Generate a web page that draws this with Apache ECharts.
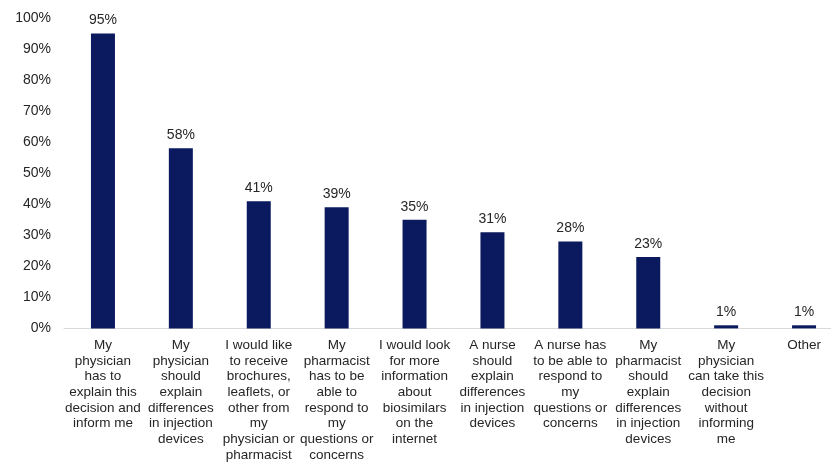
<!DOCTYPE html>
<html>
<head>
<meta charset="utf-8">
<script src="https://cdn.jsdelivr.net/npm/echarts@6/dist/echarts.min.js"></script>
<style>
  html, body { margin: 0; padding: 0; background: #fff; overflow: hidden; }
  #chart { width: 843px; height: 463px; }
</style>
</head>
<body>
<div id="chart"></div>
<script>
// categories, as the lines are broken in the picture
const categories = [
  'My\nphysician\nhas to\nexplain this\ndecision and\ninform me',
  'My\nphysician\nshould\nexplain\ndifferences\nin injection\ndevices',
  'I would like\nto receive\nbrochures,\nleaflets, or\nother from\nmy\nphysician or\npharmacist',
  'My\npharmacist\nhas to be\nable to\nrespond to\nmy\nquestions or\nconcerns',
  'I would look\nfor more\ninformation\nabout\nbiosimilars\non the\ninternet',
  'A nurse\nshould\nexplain\ndifferences\nin injection\ndevices',
  'A nurse has\nto be able to\nrespond to\nmy\nquestions or\nconcerns',
  'My\npharmacist\nshould\nexplain\ndifferences\nin injection\ndevices',
  'My\nphysician\ncan take this\ndecision\nwithout\ninforming\nme',
  'Other'
];
const values = [95, 58, 41, 39, 35, 31, 28, 23, 1, 1];
const yTicks = [0, 10, 20, 30, 40, 50, 60, 70, 80, 90, 100];

const textColor = '#262626';
const font = 'Liberation Sans, Arial, sans-serif';

let myChart = echarts.init(document.getElementById('chart'), null, {renderer: 'canvas'});
let option = {
  animation: false,
  grid: { left: 64, top: 18, right: 0, height: 311 },
  xAxis: {
    type: 'category',
    data: categories,
    axisLine: { lineStyle: { color: '#d9d9d9', width: 1 } },
    axisTick: { show: false },
    axisLabel: {
      interval: 0,
      color: textColor,
      fontFamily: font,
      fontSize: 13.5,
      lineHeight: 15.7,
      margin: 9,
      align: 'center'
    }
  },
  yAxis: {
    type: 'value',
    min: yTicks[0],
    max: yTicks[yTicks.length - 1],
    interval: 10,
    splitLine: { show: false },
    axisLine: { show: false },
    axisTick: { show: false },
    axisLabel: {
      formatter: '{value}%',
      color: textColor,
      fontFamily: font,
      fontSize: 14,
      margin: 13
    }
  },
  series: [{
    type: 'bar',
    data: values,
    barWidth: 24,
    itemStyle: { color: '#0b1a5e' },
    label: {
      show: true,
      position: 'top',
      distance: 6,
      formatter: '{c}%',
      color: textColor,
      fontFamily: font,
      fontSize: 14
    }
  }]
};
myChart.setOption(option);
</script>
</body>
</html>
